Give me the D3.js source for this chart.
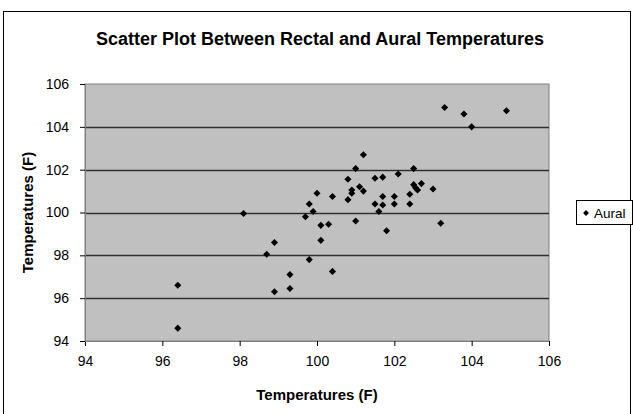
<!DOCTYPE html>
<html>
<head>
<meta charset="utf-8">
<script src="https://cdn.jsdelivr.net/npm/d3@7"></script>
<style>
  body { margin: 0; background: #fff; }
  svg text { font-family: "Liberation Sans", Arial, sans-serif; }
</style>
</head>
<body>
<svg id="chart" width="633" height="414"></svg>
<script>
// rectal (x) and aural (y) readings
var rectal = [96.4, 96.4, 98.1, 98.9, 98.7, 99.3, 99.3, 98.9, 99.7, 99.8,
              99.9, 99.8, 100.0, 100.1, 100.1, 100.3, 100.4, 100.4, 100.8, 100.8,
              100.9, 100.9, 101.0, 101.0, 101.1, 101.2, 101.2, 101.5, 101.5, 101.6,
              101.7, 101.7, 101.7, 101.8, 102.0, 102.0, 102.1, 102.4, 102.4, 102.5,
              102.5, 102.55, 102.6, 102.7, 103.0, 103.2, 103.3, 103.8, 104.0, 104.9];
var aural = [96.6, 94.6, 99.95, 98.6, 98.05, 97.1, 96.45, 96.3, 99.8, 100.4,
             100.05, 97.8, 100.9, 99.4, 98.7, 99.45, 100.75, 97.25, 101.55, 100.6,
             101.05, 100.9, 102.05, 99.6, 101.2, 101.0, 102.7, 101.6, 100.4, 100.05,
             101.65, 100.75, 100.35, 99.15, 100.75, 100.4, 101.8, 100.85, 100.4, 102.05,
             101.3, 101.15, 101.05, 101.35, 101.1, 99.5, 104.9, 104.6, 104.0, 104.75];
var ticks = [94, 96, 98, 100, 102, 104, 106];
var seriesName = "Aural";

var chart = (function(){
    var _left = 85, _right = 549, _top = 84, _bottom = 341;

    function _draw(){
        var svg = d3.select("#chart");

        // outer chart frame
        svg.append("rect")
            .attr("x", 3.5).attr("y", 11.5)
            .attr("width", 627).attr("height", 420)
            .attr("fill", "none").attr("stroke", "#000");

        var x = d3.scaleLinear().domain([94, 106]).range([_left, _right]);
        var y = d3.scaleLinear().domain([94, 106]).range([_bottom, _top]);

        svg.append("rect")
            .attr("x", _left).attr("y", _top)
            .attr("width", _right - _left).attr("height", _bottom - _top)
            .attr("fill", "#c0c0c0")
            .attr("stroke", "#808080");

        svg.selectAll(".grid")
            .data(ticks.slice(1, -1))
            .enter()
            .append("line")
            .attr("class", "grid")
            .attr("x1", _left).attr("x2", _right)
            .attr("y1", function(d){ return Math.round(y(d)) + 0.5; })
            .attr("y2", function(d){ return Math.round(y(d)) + 0.5; })
            .attr("stroke", "#303030")
            .attr("stroke-width", 1.3);

        var xAxis = svg.append("g")
            .attr("transform", "translate(0," + _bottom + ")")
            .call(d3.axisBottom(x).tickValues(ticks).tickSize(5).tickPadding(10).tickFormat(d3.format("d")));
        var yAxis = svg.append("g")
            .attr("transform", "translate(" + _left + ",0)")
            .call(d3.axisLeft(y).tickValues(ticks).tickSize(5).tickPadding(11).tickFormat(d3.format("d")));

        [xAxis, yAxis].forEach(function(a){
            a.select(".domain").attr("stroke", "#808080");
            a.selectAll(".tick line").attr("stroke", "#000");
            a.selectAll(".tick text")
                .attr("fill", "#000")
                .attr("font-size", 14)
                .style("font-family", "'Liberation Sans', Arial, sans-serif");
        });

        var diamond = d3.symbol().type(d3.symbolDiamond2).size(32);
        svg.selectAll(".pt")
            .data(rectal)
            .enter()
            .append("path")
            .attr("class", "pt")
            .attr("d", diamond)
            .attr("transform", function(d, i){
                return "translate(" + x(d) + "," + y(aural[i]) + ")";
            })
            .attr("fill", "#000");

        svg.append("text")
            .attr("x", 320).attr("y", 45)
            .attr("text-anchor", "middle")
            .attr("font-size", 18).attr("font-weight", "bold")
            .text("Scatter Plot Between Rectal and Aural Temperatures");

        svg.append("text")
            .attr("x", (_left + _right) / 2).attr("y", 400)
            .attr("text-anchor", "middle")
            .attr("font-size", 15).attr("font-weight", "bold")
            .text("Temperatures (F)");

        svg.append("text")
            .attr("transform", "translate(33," + (_top + _bottom) / 2 + ") rotate(-90)")
            .attr("text-anchor", "middle")
            .attr("font-size", 15).attr("font-weight", "bold")
            .text("Temperatures (F)");

        // legend
        var lg = svg.append("g").attr("transform", "translate(576,200)");
        lg.append("rect")
            .attr("x", 0.5).attr("y", 0.5)
            .attr("width", 56).attr("height", 24)
            .attr("fill", "#fff").attr("stroke", "#000");
        lg.append("path")
            .attr("d", d3.symbol().type(d3.symbolDiamond2).size(22))
            .attr("transform", "translate(10,13)")
            .attr("fill", "#000");
        lg.append("text")
            .attr("x", 18).attr("y", 17.5)
            .attr("font-size", 13.5)
            .text(seriesName);
    }
    return {
        draw: _draw
    };
})();

chart.draw();
</script>
</body>
</html>
